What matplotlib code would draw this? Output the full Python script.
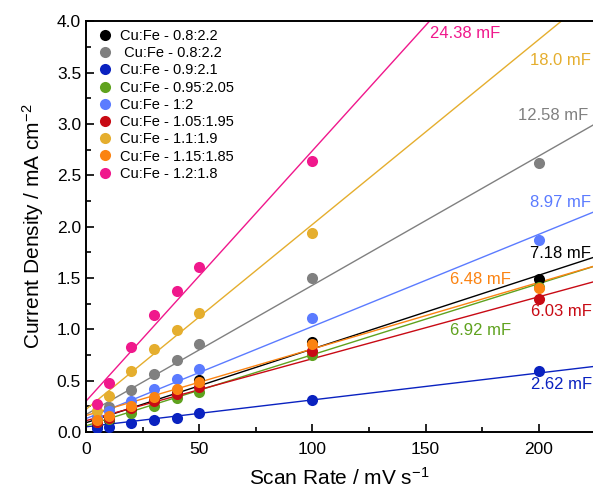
import numpy as np
import matplotlib
matplotlib.use("Agg")
import matplotlib.pyplot as plt
from matplotlib.ticker import MultipleLocator

plt.rcParams['font.family'] = ['Liberation Sans', 'DejaVu Sans']
plt.rcParams['mathtext.fontset'] = 'custom'
plt.rcParams['mathtext.rm'] = 'Liberation Sans'
plt.rcParams['mathtext.it'] = 'Liberation Sans:italic'
plt.rcParams['mathtext.bf'] = 'Liberation Sans:bold'

scan_rate = [5, 10, 20, 30, 40, 50, 100, 200]
nan = np.nan

labels = ["Cu:Fe - 0.8:2.2", " Cu:Fe - 0.8:2.2", "Cu:Fe - 0.9:2.1", "Cu:Fe - 0.95:2.05",
          "Cu:Fe - 1:2", "Cu:Fe - 1.05:1.95", "Cu:Fe - 1.1:1.9", "Cu:Fe - 1.15:1.85",
          "Cu:Fe - 1.2:1.8"]
colors = ["#000000", "#808080", "#0a22c0", "#5fa21e", "#5b7bff", "#c80a14",
          "#e5ae2e", "#fb8312", "#f0188c"]

black_vals  = [0.05, 0.12, 0.22, 0.31, 0.38, 0.51, 0.88, 1.49]
gray_vals   = [0.13, 0.24, 0.41, 0.56, 0.70, 0.86, 1.50, 2.62]
navy_vals   = [0.04, 0.05, 0.09, 0.12, 0.14, 0.18, 0.31, 0.59]
green_vals  = [0.10, 0.13, 0.18, 0.25, 0.33, 0.39, 0.75, 1.41]
blue_vals   = [0.15, 0.20, 0.30, 0.42, 0.52, 0.61, 1.11, 1.87]
red_vals    = [0.10, 0.14, 0.23, 0.30, 0.37, 0.44, 0.79, 1.29]
gold_vals   = [0.20, 0.35, 0.59, 0.81, 0.99, 1.16, 1.94, nan]
orange_vals = [0.12, 0.16, 0.25, 0.34, 0.42, 0.49, 0.86, 1.40]
pink_vals   = [0.27, 0.48, 0.83, 1.14, 1.37, 1.61, 2.64, nan]

series = [black_vals, gray_vals, navy_vals, green_vals, blue_vals, red_vals,
          gold_vals, orange_vals, pink_vals]

# fitted slopes (mF) and intercepts
slopes_mF  = [7.18, 12.58, 2.62, 6.92, 8.97, 6.03, 18.0, 6.48, 24.38]
intercepts = [0.09, 0.17, 0.05, 0.06, 0.13, 0.11, 0.22, 0.16, 0.30]
slope_labels = ["7.18 mF", "12.58 mF", "2.62 mF", "6.92 mF", "8.97 mF", "6.03 mF",
                "18.0 mF", "6.48 mF", "24.38 mF"]
label_pos = [(196, 1.74), (191, 3.08), (196.5, 0.46), (161, 0.99), (196, 2.23),
             (196.5, 1.17), (196, 3.62), (161, 1.48), (152, 3.88)]

fig = plt.figure(figsize=(5.93, 4.92), dpi=100)
ax = fig.add_axes([0.145, 0.122, 0.855, 0.835])

xline = np.linspace(0, 230, 200)
for s, b, c in zip(slopes_mF, intercepts, colors):
    ax.plot(xline, b + s / 1000.0 * xline, color=c, lw=1.0, zorder=2)

for vals, c, lab in zip(series, colors, labels):
    ax.plot(scan_rate, vals, 'o', color=c, ms=8, mec='none', label=lab, zorder=3,
            linestyle='none')

for txt, (tx, ty), c in zip(slope_labels, label_pos, colors):
    ax.text(tx, ty, txt, color=c, fontsize=12, va='center', ha='left', zorder=4)

ax.set_xlim(0, 224)
ax.set_ylim(0, 4.0)
ax.xaxis.set_major_locator(MultipleLocator(50))
ax.xaxis.set_minor_locator(MultipleLocator(25))
ax.yaxis.set_major_locator(MultipleLocator(0.5))
ax.yaxis.set_minor_locator(MultipleLocator(0.25))
ax.yaxis.set_major_formatter(matplotlib.ticker.FormatStrFormatter('%.1f'))
ax.tick_params(axis='both', which='both', direction='in', labelsize=12.5, width=1.2)
ax.tick_params(which='major', length=6)
ax.tick_params(which='minor', length=3.5)
ax.tick_params(axis='x', pad=7)
ax.spines['right'].set_visible(False)
for sp in ['left', 'bottom', 'top']:
    ax.spines[sp].set_linewidth(1.4)

ax.set_xlabel("Scan Rate / mV s$\\mathregular{^{-1}}$", fontsize=15, labelpad=7)
ax.set_ylabel("Current Density / mA cm$\\mathregular{^{-2}}$", fontsize=15, labelpad=8)

leg = ax.legend(loc='upper left', frameon=False, fontsize=10.5, handletextpad=0.35,
                labelspacing=0.22, borderaxespad=0.0, handlelength=1.4,
                bbox_to_anchor=(0.005, 0.995))

fig.savefig("out.png", dpi=100)
